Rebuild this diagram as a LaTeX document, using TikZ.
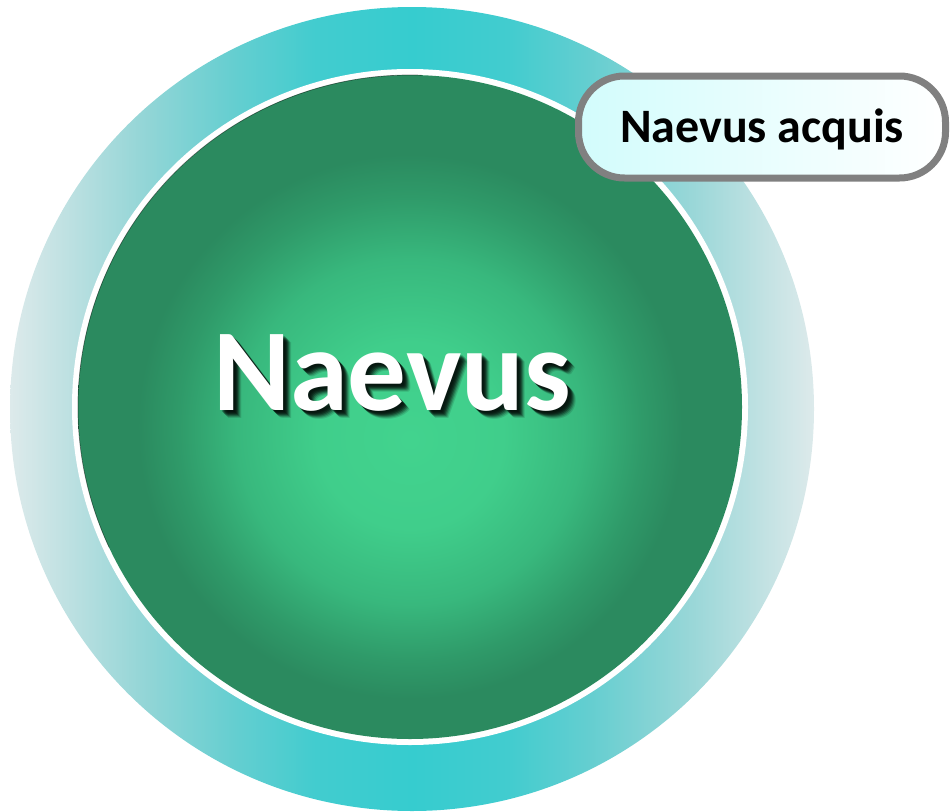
\documentclass[tikz,border=0pt]{standalone}
\usepackage{fontspec}
\setmainfont{Carlito}
\usetikzlibrary{shadings}

% colours
\definecolor{ringedge}{RGB}{221,234,235}
\definecolor{ringa}{RGB}{195,226,227}
\definecolor{ringb}{RGB}{150,214,215}
\definecolor{ringc}{RGB}{100,206,208}
\definecolor{ringd}{RGB}{66,204,207}
\definecolor{ringmid}{RGB}{54,204,207}
\definecolor{ballcore}{RGB}{66,211,142}
\definecolor{ballone}{RGB}{64,206,139}
\definecolor{balltwo}{RGB}{56,184,125}
\definecolor{ballthree}{RGB}{47,154,105}
\definecolor{balledge}{RGB}{43,138,95}
\definecolor{labelfill}{RGB}{210,252,252}
\definecolor{labelline}{RGB}{128,128,128}

% horizontal shading of the outer ring: pale at the sides, cyan in the middle
\pgfdeclarehorizontalshading{ringshade}{100bp}{%
  color(0bp)=(ringedge); color(25bp)=(ringedge); color(28bp)=(ringa);
  color(33bp)=(ringb); color(39bp)=(ringc); color(44bp)=(ringd);
  color(50bp)=(ringmid);
  color(56bp)=(ringd); color(61bp)=(ringc); color(67bp)=(ringb);
  color(72bp)=(ringa); color(75bp)=(ringedge); color(100bp)=(ringedge)}

% radial shading of the central disc, bright spot a little below the centre
\pgfdeclareradialshading{ballshade}{\pgfpoint{0bp}{-2.5bp}}{%
  color(0bp)=(ballcore); color(7bp)=(ballone); color(13bp)=(balltwo);
  color(17.5bp)=(ballthree); color(20.5bp)=(balledge); color(50bp)=(balledge)}

\tikzset{
  bigword/.style={font=\fontsize{117}{117}\selectfont\bfseries, anchor=base, inner sep=0pt},
  bigshadow/.style={bigword, text=black, opacity=#1},
  tagbox/.style={draw=labelline, line width=7pt, rounded corners=46pt,
    left color=labelfill, right color=white,
    minimum width=367pt, minimum height=102pt,
    text height=31pt, text depth=0pt, inner sep=0pt,
    font=\fontsize{48}{48}\selectfont\bfseries, text=black}
}

\begin{document}
\begin{tikzpicture}[x=1pt,y=-1pt]
  \useasboundingbox (0,0) rectangle (950,811);

  % outer ring
  \shade[shading=ringshade] (412,409) circle (402pt);

  % white border and central disc
  \coordinate (disc) at (410,407);
  \fill[white] (disc) circle (338pt);
  \shade[shading=ballshade] (disc) circle (332pt);
  % faint dark rim on the upper left of the disc
  \draw[black, line width=0.7pt, opacity=0.45]
    ([shift={(205:332pt)}]disc) arc[start angle=205, end angle=88, radius=332pt];

  % main word with a soft drop shadow
  \foreach \dx/\op in {8/0.12, 7/0.18, 6/0.25, 5/0.32, 4/0.35, 3/0.30, 2/0.25} {
    \node[bigshadow=\op] (sh\dx) at (392+\dx,410+\dx) {Naevus};
  }
  \node[bigword, text=white] (main) at (392,410) {Naevus};

  % tag in the upper right
  \node[tagbox] (tag) at (762,127) {Naevus acquis};
\end{tikzpicture}
\end{document}
